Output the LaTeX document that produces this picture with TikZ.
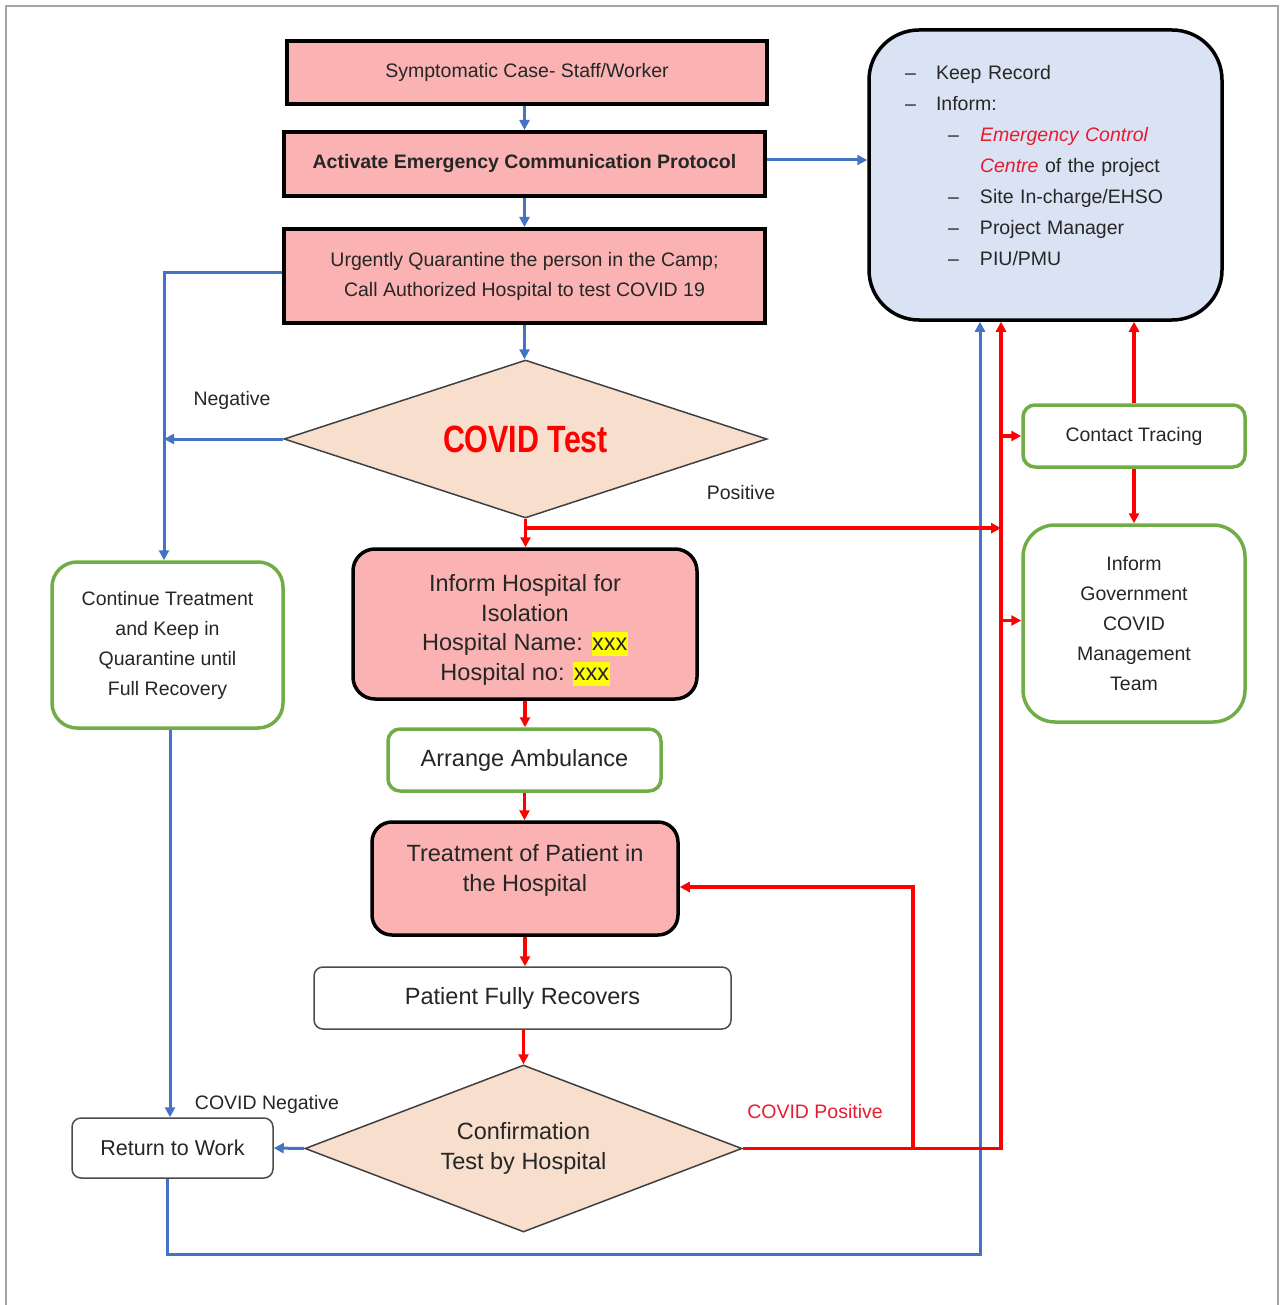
\documentclass[tikz,border=0pt]{standalone}
\usepackage{fontspec}
\setmainfont{Liberation Sans}
\newfontfamily\narrowfont{Liberation Sans}[FakeStretch=0.8]
\usetikzlibrary{shapes.geometric,arrows.meta,calc}

\definecolor{pinkfill}{RGB}{250,178,178}
\definecolor{peachfill}{RGB}{248,222,205}
\definecolor{infofill}{RGB}{218,227,243}
\definecolor{greenline}{RGB}{112,173,71}
\definecolor{bluearrow}{RGB}{68,114,196}
\definecolor{redarrow}{RGB}{255,0,0}
\definecolor{redtext}{RGB}{232,28,48}
\definecolor{inktext}{RGB}{38,38,38}
\definecolor{framegray}{RGB}{165,165,165}
\definecolor{marker}{RGB}{255,255,0}

\newcommand\smtxt{\fontsize{19.5pt}{30pt}\selectfont}
\newcommand\lgtxt{\fontsize{23.5pt}{29.5pt}\selectfont}
\newcommand\hl[1]{{\setlength{\fboxsep}{0.5pt}\colorbox{marker}{\rule[-5pt]{0pt}{23pt}#1}}}

\begin{document}
\begin{tikzpicture}[x=1pt,y=-1pt,
  every node/.style={text=inktext, align=center, inner sep=2pt},
  sqbox/.style={rectangle, draw=black, line width=4pt, fill=pinkfill, font=\smtxt},
  pinkround/.style={rectangle, rounded corners=22pt, draw=black, line width=3.5pt, fill=pinkfill, font=\lgtxt},
  greenbox/.style={rectangle, draw=greenline, line width=3.5pt, fill=white},
  plainbox/.style={rectangle, rounded corners=9pt, draw=black!70, line width=1.5pt, fill=white},
  decision/.style={diamond, draw=black!75, line width=1.5pt, fill=peachfill, inner sep=0pt},
  barrow/.style={draw=bluearrow, line width=3pt, -{Triangle[length=10pt,width=10pt]}},
  rarrow/.style={draw=redarrow, line width=3.5pt, line join=miter, -{Triangle[length=10pt,width=10pt]}},
  tag/.style={font=\smtxt, inner sep=0pt},
]
\useasboundingbox (0,0) rectangle (1281,1305);

% page frame
\draw[framegray, line width=2pt] (6,1305) -- (6,6) -- (1278,6) -- (1278,1305);

% main column
\node[sqbox, minimum width=480pt, minimum height=63pt] (sym) at (527,72.5) {Symptomatic Case- Staff/Worker};
\node[sqbox, minimum width=481pt, minimum height=64pt, font=\smtxt\bfseries] (act) at (524.5,164) {Activate Emergency Communication Protocol};
\node[sqbox, minimum width=481pt, minimum height=94pt] (urg) at (524.5,276) {Urgently Quarantine the person in the Camp;\\Call Authorized Hospital to test COVID 19};
\node[decision, shape aspect=3.06, minimum width=483pt, minimum height=158pt, text=redarrow,
      font=\fontsize{38pt}{40pt}\narrowfont\bfseries] (test) at (525.5,439) {COVID Test};

\node[pinkround, minimum width=344pt, minimum height=150pt] (hosp) at (525,624)
  {\rule{0pt}{29pt}Inform Hospital for\\Isolation\\Hospital Name: \hl{xxx}\\Hospital no: \hl{xxx}};
\node[greenbox, rounded corners=12pt, minimum width=273pt, minimum height=62pt, font=\lgtxt] (amb) at (524.5,760) {Arrange Ambulance};
\node[pinkround, rounded corners=20pt, minimum width=306pt, minimum height=113pt] (treat) at (525,878.5) {Treatment of Patient in\\the Hospital\\[-8pt]\mbox{}};
\node[plainbox, minimum width=417pt, minimum height=62pt, font=\lgtxt] (recov) at (522.5,998) {Patient Fully Recovers};
\node[decision, shape aspect=2.62, minimum width=437pt, minimum height=167pt, font=\lgtxt] (conf) at (523.5,1148.5) {Confirmation\\Test by Hospital};

% left column
\node[greenbox, rounded corners=25pt, minimum width=231pt, minimum height=166pt, font=\smtxt] (cont) at (167.5,645)
  {Continue Treatment\\and Keep in\\Quarantine until\\Full Recovery};
\node[plainbox, minimum width=201pt, minimum height=60pt, font=\fontsize{21.5pt}{26pt}\selectfont] (ret) at (172.5,1148) {Return to Work};

% right column
\node[rectangle, rounded corners=50pt, draw=black, line width=3.5pt, fill=infofill,
      minimum width=353pt, minimum height=290pt, text width=281pt, align=left,
      font=\fontsize{19.5pt}{31pt}\selectfont] (info) at (1045.5,175)
  {\makebox[31pt][l]{--}Keep Record\\
   \makebox[31pt][l]{--}Inform:\\
   \hspace*{43pt}\makebox[32pt][l]{--}\textcolor{redtext}{\itshape Emergency Control}\\
   \hspace*{75pt}\textcolor{redtext}{\itshape Centre} of the project\\
   \hspace*{43pt}\makebox[32pt][l]{--}Site In-charge/EHSO\\
   \hspace*{43pt}\makebox[32pt][l]{--}Project Manager\\
   \hspace*{43pt}\makebox[32pt][l]{--}PIU/PMU\\[-12pt]\mbox{}};
\node[greenbox, rounded corners=12pt, minimum width=222pt, minimum height=62pt, font=\smtxt] (ct) at (1134,436) {Contact Tracing};
\node[greenbox, rounded corners=32pt, minimum width=222pt, minimum height=197pt, font=\smtxt] (gov) at (1134,623.5)
  {Inform\\Government\\COVID\\Management\\Team};

% branch labels
\node[tag] (lneg) at (232,400) {Negative};
\node[tag] (lpos) at (741,493) {Positive};
\node[tag] (lcneg) at (267,1104) {COVID Negative};
\node[tag, text=redtext] (lcpos) at (815,1112) {COVID Positive};

% routing columns and rows
\coordinate (lx) at (164,0);
\coordinate (bx) at (980,0);
\coordinate (rx) at (1001,0);
\coordinate (brx) at (913,0);
\coordinate (by) at (0,1254);
\coordinate (jp) at ($(test.south)!0.33!(hosp.north)$);

% blue flow
\draw[barrow] (act.north |- sym.south) -- (act.north);
\draw[barrow] (act.south) -- (act.south |- urg.north);
\draw[barrow] (urg.south) -- (urg.south |- test.north);
\draw[barrow] ([yshift=4pt]act.east) -- ([yshift=4pt]act.east -| info.west);
\draw[barrow] ([yshift=3pt]urg.west) -| ([xshift=-3.5pt]cont.north);
\draw[barrow] (test.west) -- (test.west -| lx);
\draw[barrow] ([xshift=2.5pt]cont.south) -- ([xshift=-2.5pt]ret.north);
\draw[barrow] (conf.west) -- (ret.east);
\draw[barrow] ([xshift=-5.5pt]ret.south) |- (bx |- by) -- (bx |- info.south);

% red flow
\draw[rarrow] (test.south) -- (test.south |- hosp.north);
\draw[rarrow] (jp) -- (jp -| rx);
\draw[rarrow] (hosp.south) -- (hosp.south |- amb.north);
\draw[rarrow] (amb.south) -- (amb.south |- treat.north);
\draw[rarrow] (treat.south) -- (treat.south |- recov.north);
\draw[rarrow] (recov.south -| conf.north) -- (conf.north);
\draw[rarrow] (conf.east) -- (conf.east -| rx) -- (rx |- info.south);
\draw[rarrow] (conf.east -| brx) |- ([yshift=-8.5pt]treat.east);
\draw[rarrow] (rx |- ct.west) -- (ct.west);
\draw[rarrow] ([yshift=3pt]rx |- gov.west) -- ([yshift=3pt]gov.west);
\draw[rarrow] (ct.north) -- (ct.north |- info.south);
\draw[rarrow] (ct.south) -- (gov.north);
\end{tikzpicture}
\end{document}
